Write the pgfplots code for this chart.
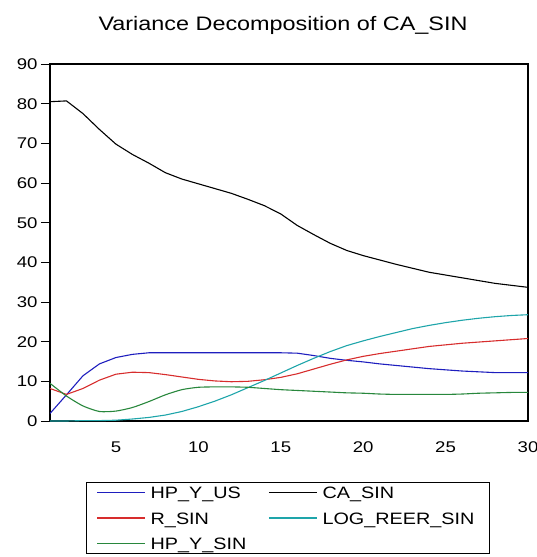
\documentclass[border=0pt]{standalone}
\usepackage{fontspec}
\setmainfont{Liberation Sans}[FakeStretch=1.2]
\usepackage{pgfplots}
\pgfplotsset{compat=1.18}
\usepackage{pgfplotstable}

% period  hpyus  casin  rsin  logreer  hpysin
\pgfplotstableread{
x  hpyus casin rsin logreer hpysin
1  1.9  80.5  8.2  0.0  9.5
2  6.6  80.7  6.7  0.0  6.3
3  11.4 77.5  8.2  0.1  3.8
4  14.4 73.5  10.3 0.1  2.4
5  16.0 69.8  11.8 0.2  2.5
6  16.8 67.2  12.3 0.5  3.4
7  17.2 65.0  12.2 0.9  4.9
8  17.2 62.6  11.7 1.5  6.6
9  17.2 61.0  11.1 2.4  7.9
10 17.2 59.8  10.5 3.6  8.5
11 17.2 58.6  10.1 5.0  8.6
12 17.2 57.4  9.9  6.6  8.6
13 17.2 55.9  10.0 8.4  8.5
14 17.2 54.3  10.4 10.2 8.2
15 17.2 52.2  11.0 12.1 7.9
16 17.1 49.3  11.9 14.0 7.7
17 16.5 47.0  13.1 15.8 7.5
18 15.8 44.8  14.3 17.5 7.3
19 15.3 43.0  15.4 19.0 7.1
20 14.9 41.7  16.3 20.2 7.0
21 14.4 40.6  17.0 21.3 6.8
22 14.0 39.5  17.6 22.3 6.7
23 13.6 38.5  18.2 23.3 6.7
24 13.2 37.5  18.8 24.1 6.7
25 12.9 36.8  19.2 24.8 6.7
26 12.6 36.1  19.6 25.4 6.8
27 12.4 35.4  19.9 25.9 7.0
28 12.2 34.7  20.2 26.3 7.1
29 12.2 34.2  20.5 26.6 7.2
30 12.2 33.7  20.8 26.8 7.2
}\vardata

\definecolor{evblue}{RGB}{30,30,190}
\definecolor{evred}{RGB}{215,45,45}
\definecolor{evgreen}{RGB}{40,135,60}
\definecolor{evteal}{RGB}{30,165,170}

\begin{document}
\begin{tikzpicture}
\useasboundingbox (-50pt,-136pt) rectangle (487pt,421pt);
\begin{axis}[
    scale only axis,
    width=478pt, height=357pt,
    xmin=1, xmax=30, ymin=0, ymax=90,
    axis line style={line width=1.4pt},
    title={Variance Decomposition of CA\_SIN},
    title style={at={(0.5,1)}, anchor=base, yshift=28pt, xshift=-6pt,
        font=\fontsize{19.5}{19.5}\selectfont},
    xtick={5,10,...,30},
    minor xtick={1,...,30},
    ytick={0,10,...,90},
    xtick pos=left, ytick pos=left,
    tick align=outside,
    major tick length=9pt, minor tick length=6pt,
    xtick style={draw=none},
    minor x tick style={line width=0.8pt, black},
    ytick style={line width=0.8pt, black},
    tick label style={font=\fontsize{15.5}{15.5}\selectfont},
    /pgf/number format/assume math mode=true,
    xticklabel style={yshift=-8pt},
    legend columns=2,
    legend cell align=left,
    legend image code/.code={\draw[#1] (0pt,0pt) -- (48pt,0pt);},
    legend style={at={(0.5,0)}, anchor=north, yshift=-61pt, xshift=-1pt,
        draw=black, line width=1pt,
        inner xsep=10pt, inner ysep=4pt,
        font=\fontsize{16.5}{16.5}\selectfont,
        nodes={inner xsep=5pt, inner ysep=0pt, text height=12pt, text depth=0pt},
        row sep=13.5pt,
        /tikz/every even column/.append style={column sep=17pt}},
    every axis plot/.append style={line width=1.1pt},
]
\addplot[evblue]  table[x=x, y=hpyus]   {\vardata};
\addplot[black]   table[x=x, y=casin]   {\vardata};
\addplot[evred]   table[x=x, y=rsin]    {\vardata};
\addplot[evteal]  table[x=x, y=logreer] {\vardata};
\addplot[evgreen, smooth, tension=0.4] table[x=x, y=hpysin]  {\vardata};
\legend{HP\_Y\_US, CA\_SIN, R\_SIN, LOG\_REER\_SIN, HP\_Y\_SIN}
\end{axis}
\end{tikzpicture}
\end{document}
